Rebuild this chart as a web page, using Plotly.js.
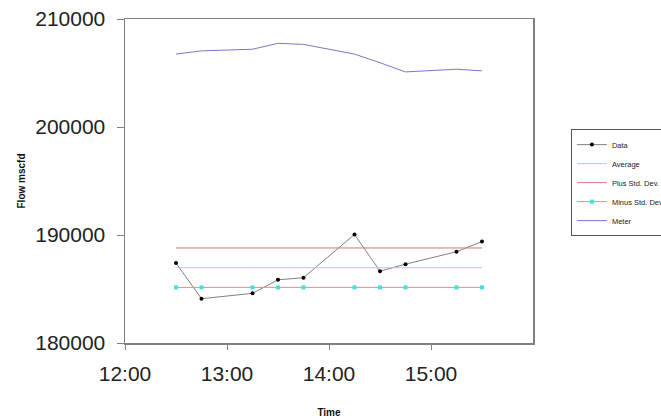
<!DOCTYPE html>
<html>
<head>
<meta charset="utf-8">
<script src="https://cdn.plot.ly/plotly-3.0.1.min.js"></script>
<style>html,body{margin:0;padding:0;background:#fff;overflow:hidden;width:661px;height:419px;}#chart{width:720px;height:419px;}</style>
</head>
<body>
<div id="chart"></div>
<script>
const times = ['2000-01-01 12:30','2000-01-01 12:45','2000-01-01 13:15','2000-01-01 13:30','2000-01-01 13:45','2000-01-01 14:15','2000-01-01 14:30','2000-01-01 14:45','2000-01-01 15:15','2000-01-01 15:30'];
const dataFlow = [187400, 184100, 184600, 185850, 186050, 190050, 186650, 187300, 188450, 189400];
const averageFlow = [186970, 186970, 186970, 186970, 186970, 186970, 186970, 186970, 186970, 186970];
const plusStdDev = [188800, 188800, 188800, 188800, 188800, 188800, 188800, 188800, 188800, 188800];
const minusStdDev = [185150, 185150, 185150, 185150, 185150, 185150, 185150, 185150, 185150, 185150];
const meterFlow = [206750, 207050, 207200, 207750, 207650, 206750, 205950, 205100, 205350, 205200];
const yTicks = [180000, 190000, 200000, 210000];
const xTicks = ['2000-01-01 12:00', '2000-01-01 13:00', '2000-01-01 14:00', '2000-01-01 15:00'];
const xTickLabels = ['12:00', '13:00', '14:00', '15:00'];

const traces = [
  {x: times, y: dataFlow, name: 'Data', mode: 'lines+markers', line: {color: '#808080', width: 1}, marker: {color: '#000000', size: 4, symbol: 'circle'}},
  {x: times, y: averageFlow, name: 'Average', mode: 'lines', line: {color: '#80e0e0', width: 1}},
  {x: times, y: plusStdDev, name: 'Plus Std. Dev.', mode: 'lines', line: {color: '#d07878', width: 1}},
  {x: times, y: minusStdDev, name: 'Minus Std. Dev.', mode: 'lines+markers', line: {color: '#e08c8c', width: 1}, marker: {color: '#40e0e0', size: 4, symbol: 'square'}},
  {x: times, y: meterFlow, name: 'Meter', mode: 'lines', line: {color: '#7b78c8', width: 1}}
];

const layout = {
  width: 720, height: 419,
  margin: {l: 125, r: 187, t: 19, b: 76},
  paper_bgcolor: '#ffffff', plot_bgcolor: '#ffffff',
  font: {family: 'Liberation Sans, Arial, sans-serif', color: '#222222'},
  showlegend: true,
  legend: {x: 1.093, y: 0.495, xanchor: 'left', yanchor: 'middle', bordercolor: '#555555', borderwidth: 1, bgcolor: '#ffffff', font: {size: 7.5, color: '#222222'}, tracegroupgap: 0, itemwidth: 30},
  xaxis: {
    type: 'date', range: ['2000-01-01 12:00', '2000-01-01 16:00'],
    tickvals: xTicks, ticktext: xTickLabels,
    showgrid: false, zeroline: false,
    showline: true, linecolor: '#808080', linewidth: 1.5, mirror: true,
    ticks: 'outside', ticklen: 5, tickcolor: '#808080',
    ticklabelstandoff: 6,
    tickfont: {size: 21, color: '#222222'},
    title: {text: '<b>Time</b>', font: {size: 10, color: '#111111'}, standoff: 25}
  },
  yaxis: {
    range: [180000, 210000], tickvals: yTicks, ticktext: yTicks.map(String),
    showgrid: false, zeroline: false,
    showline: true, linecolor: '#808080', linewidth: 1.5, mirror: true,
    ticks: 'outside', ticklen: 7, tickcolor: '#808080',
    ticklabelstandoff: 7,
    tickfont: {size: 21, color: '#222222'},
    title: {text: '<b>Flow mscfd</b>', font: {size: 10, color: '#111111'}, standoff: 7}
  }
};

Plotly.newPlot('chart', traces, layout, {staticPlot: true, displayModeBar: false});
</script>
</body>
</html>
